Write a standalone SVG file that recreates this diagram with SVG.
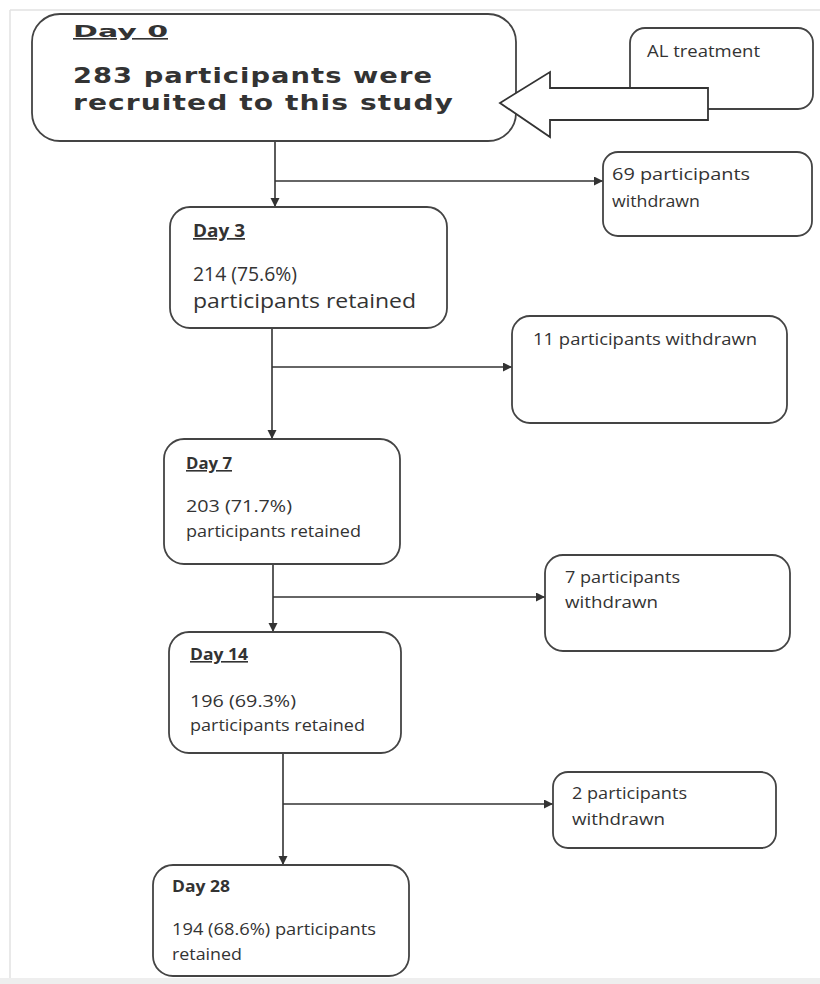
<svg xmlns="http://www.w3.org/2000/svg" width="820" height="984" viewBox="0 0 820 984">
<defs>
<marker id="ah" markerUnits="userSpaceOnUse" markerWidth="10" markerHeight="10" refX="9" refY="4.5" orient="auto">
<path d="M0,0 L9,4.5 L0,9 z" fill="#333"/>
</marker>
<style>
.box{fill:#fff;stroke:#444;stroke-width:1.8}
.ln{stroke:#333;stroke-width:1.6;fill:none}
.t{font-family:"Open Sans","Liberation Sans",sans-serif;fill:#333}
.h{font-family:"Open Sans","Liberation Sans",sans-serif;font-weight:700;fill:#333}
.v{font-family:"DejaVu Sans","Liberation Sans",sans-serif;font-weight:700;fill:#333}
</style>
</defs>
<rect x="0" y="0" width="820" height="984" fill="#fff"/>
<g id="frame" stroke="#e2e2e2" stroke-width="1.5" fill="none">
<line x1="10" y1="10" x2="820" y2="10"/>
<line x1="10" y1="10" x2="10" y2="978"/>
</g>
<rect x="0" y="978" width="820" height="6" fill="#eeeeee"/>

<g id="connectors">
<line class="ln" x1="275" y1="141" x2="275" y2="207" marker-end="url(#ah)"/>
<line class="ln" x1="275" y1="181" x2="603" y2="181" marker-end="url(#ah)"/>
<line class="ln" x1="272" y1="328" x2="272" y2="439" marker-end="url(#ah)"/>
<line class="ln" x1="272" y1="367" x2="512" y2="367" marker-end="url(#ah)"/>
<line class="ln" x1="273" y1="564" x2="273" y2="632" marker-end="url(#ah)"/>
<line class="ln" x1="273" y1="597" x2="545" y2="597" marker-end="url(#ah)"/>
<line class="ln" x1="283" y1="753" x2="283" y2="865" marker-end="url(#ah)"/>
<line class="ln" x1="283" y1="804" x2="553" y2="804" marker-end="url(#ah)"/>
</g>

<g id="day0">
<rect class="box" x="32" y="14" width="484" height="127" rx="28" ry="28"/>
<text class="v" x="73" y="37" font-size="16" textLength="95" lengthAdjust="spacingAndGlyphs" text-decoration="underline">Day 0</text>
<text class="v" x="73" y="83" font-size="21" letter-spacing="0.8" textLength="360" lengthAdjust="spacingAndGlyphs">283 participants were</text>
<text class="v" x="73" y="110" font-size="21" letter-spacing="0.8" textLength="381" lengthAdjust="spacingAndGlyphs">recruited to this study</text>
</g>

<g id="al">
<rect class="box" x="630" y="28" width="183" height="81" rx="15" ry="15"/>
<text class="t" x="647" y="57" font-size="16" textLength="113" lengthAdjust="spacingAndGlyphs">AL treatment</text>
</g>

<g id="block-arrow">
<path d="M708,88 L550,88 L550,72 L500,103 L550,137 L550,120 L708,120 Z" fill="#fff" stroke="#333" stroke-width="1.8" stroke-linejoin="miter"/>
</g>

<g id="w69">
<rect class="box" x="603" y="152" width="209" height="84" rx="15" ry="15"/>
<text class="t" x="612" y="180" font-size="17" textLength="138" lengthAdjust="spacingAndGlyphs">69 participants</text>
<text class="t" x="612" y="207" font-size="17" textLength="88" lengthAdjust="spacingAndGlyphs">withdrawn</text>
</g>

<g id="day3">
<rect class="box" x="170" y="207" width="277" height="121" rx="20" ry="20"/>
<text class="h" x="193" y="237" font-size="17" textLength="52" lengthAdjust="spacingAndGlyphs" text-decoration="underline">Day 3</text>
<text class="t" x="193" y="281" font-size="20" textLength="104" lengthAdjust="spacingAndGlyphs">214 (75.6%)</text>
<text class="t" x="193" y="308" font-size="20" textLength="223" lengthAdjust="spacingAndGlyphs">participants retained</text>
</g>

<g id="w11">
<rect class="box" x="512" y="316" width="275" height="107" rx="18" ry="18"/>
<text class="t" x="533" y="345" font-size="17" textLength="224" lengthAdjust="spacingAndGlyphs">11 participants withdrawn</text>
</g>

<g id="day7">
<rect class="box" x="164" y="439" width="236" height="125" rx="20" ry="20"/>
<text class="h" x="186" y="469" font-size="16" textLength="46" lengthAdjust="spacingAndGlyphs" text-decoration="underline">Day 7</text>
<text class="t" x="186" y="512" font-size="17" textLength="106" lengthAdjust="spacingAndGlyphs">203 (71.7%)</text>
<text class="t" x="186" y="537" font-size="17" textLength="175" lengthAdjust="spacingAndGlyphs">participants retained</text>
</g>

<g id="w7">
<rect class="box" x="545" y="555" width="245" height="96" rx="18" ry="18"/>
<text class="t" x="565" y="583" font-size="17" textLength="115" lengthAdjust="spacingAndGlyphs">7 participants</text>
<text class="t" x="565" y="608" font-size="17" textLength="93" lengthAdjust="spacingAndGlyphs">withdrawn</text>
</g>

<g id="day14">
<rect class="box" x="169" y="632" width="232" height="121" rx="20" ry="20"/>
<text class="h" x="190" y="660" font-size="16" textLength="58" lengthAdjust="spacingAndGlyphs" text-decoration="underline">Day 14</text>
<text class="t" x="190" y="707" font-size="17" textLength="106" lengthAdjust="spacingAndGlyphs">196 (69.3%)</text>
<text class="t" x="190" y="731" font-size="17" textLength="175" lengthAdjust="spacingAndGlyphs">participants retained</text>
</g>

<g id="w2">
<rect class="box" x="553" y="772" width="223" height="76" rx="15" ry="15"/>
<text class="t" x="572" y="799" font-size="17" textLength="115" lengthAdjust="spacingAndGlyphs">2 participants</text>
<text class="t" x="572" y="825" font-size="17" textLength="93" lengthAdjust="spacingAndGlyphs">withdrawn</text>
</g>

<g id="day28">
<rect class="box" x="153" y="865" width="256" height="111" rx="20" ry="20"/>
<text class="h" x="172" y="892" font-size="16" textLength="58" lengthAdjust="spacingAndGlyphs">Day 28</text>
<text class="t" x="172" y="935" font-size="17" textLength="204" lengthAdjust="spacingAndGlyphs">194 (68.6%) participants</text>
<text class="t" x="172" y="960" font-size="17" textLength="70" lengthAdjust="spacingAndGlyphs">retained</text>
</g>
</svg>
